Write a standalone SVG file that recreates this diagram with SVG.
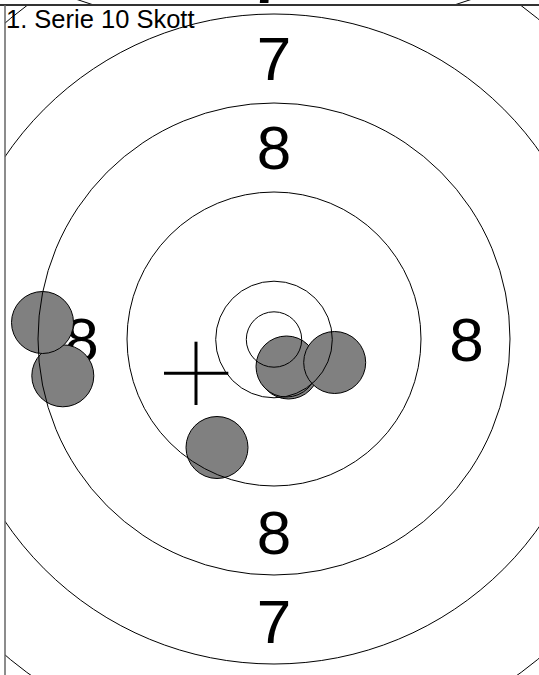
<svg xmlns="http://www.w3.org/2000/svg" width="539" height="675" viewBox="0 0 539 675">
  <style>
    .ring { fill: none; stroke: #000; stroke-width: 1; }
    .num { font-family: "Liberation Sans", Arial, sans-serif; font-size: 62px; fill: #000; text-anchor: middle; }
    .shot { fill: #808080; stroke: #000; stroke-width: 1; }
    .title { font-family: "Liberation Sans", Arial, sans-serif; font-size: 25.5px; fill: #000; }
  </style>
  <defs>
    <clipPath id="panel"><rect x="5" y="5" width="534" height="670"/></clipPath>
    <clipPath id="above"><rect x="0" y="0" width="539" height="5"/></clipPath>
  </defs>
  <rect width="539" height="675" fill="#fff"/>
  <g id="previous-panel" clip-path="url(#above)">
    <circle class="ring" cx="274" cy="-574.5" r="607"/>
    <text x="268" y="3" font-family="Liberation Sans, Arial, sans-serif" font-weight="bold" font-size="60" text-anchor="middle">7</text>
  </g>
  <g id="target" clip-path="url(#panel)">
    <g id="labels">
      <text class="num" x="274" y="80">7</text>
      <text class="num" x="274" y="169">8</text>
      <text class="num" x="81.5" y="361">8</text>
      <text class="num" x="466.5" y="361">8</text>
      <text class="num" x="274" y="554">8</text>
      <text class="num" x="274" y="643">7</text>
    </g>
    <g id="shots">
      <circle class="shot" cx="62.8" cy="375.8" r="31"/>
      <circle class="shot" cx="42.5" cy="322.5" r="31"/>
      <circle class="shot" cx="288.5" cy="368.5" r="30.5"/>
      <circle class="shot" cx="286.5" cy="366.5" r="30.5"/>
      <circle class="shot" cx="334.7" cy="362.5" r="31"/>
      <circle class="shot" cx="217" cy="447.5" r="31"/>
    </g>
    <g id="rings">
      <circle class="ring" cx="274" cy="339.5" r="27.7"/>
      <circle class="ring" cx="274" cy="339.5" r="58.3"/>
      <circle class="ring" cx="274" cy="339" r="147"/>
      <circle class="ring" cx="274" cy="339" r="236"/>
      <circle class="ring" cx="274" cy="339" r="325"/>
      <circle class="ring" cx="274" cy="339" r="415"/>
    </g>
    <g id="aim-cross" stroke="#000" stroke-width="3">
      <line x1="164" y1="373.3" x2="228.3" y2="373.3"/>
      <line x1="196" y1="341.7" x2="196" y2="405"/>
    </g>
  </g>
  <g id="frame" fill="none">
    <line x1="0" y1="5" x2="539" y2="5" stroke="#333" stroke-width="2"/>
    <line x1="5" y1="5" x2="5" y2="675" stroke="#666" stroke-width="1.5"/>
  </g>
  <text class="title" x="6" y="28.3">1. Serie 10 Skott</text>
</svg>
